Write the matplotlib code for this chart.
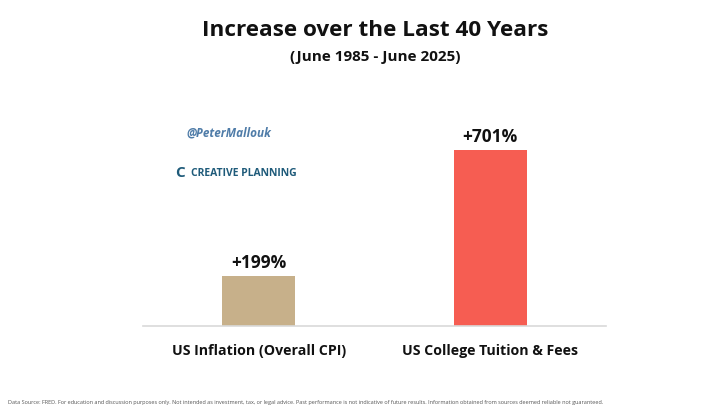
import matplotlib
matplotlib.use("Agg")
import matplotlib.pyplot as plt

categories = ["US Inflation (Overall CPI)", "US College Tuition & Fees"]
values = [199, 701]
value_labels = ["+199%", "+701%"]
colors = ["#C7B08A", "#F65D52"]

title = "Increase over the Last 40 Years"
subtitle = "(June 1985 - June 2025)"
footnote = ("Data Source: FRED. For education and discussion purposes only. Not intended as investment, tax, or legal advice. "
            "Past performance is not indicative of future results. Information obtained from sources deemed reliable not guaranteed.")

plt.rcParams['font.family'] = ['Open Sans', 'DejaVu Sans']

W, H = 709, 411
fig = plt.figure(figsize=(W / 100, H / 100), dpi=100)
fig.patch.set_facecolor("white")

# axes: x 143..606 px, baseline y=326, top y=125 (ylim 0..800)
ax = fig.add_axes([143 / W, 1 - 326 / H, (606 - 143) / W, (326 - 125) / H])
x = list(range(len(categories)))
bars = ax.bar(x, values, width=0.315, color=colors, zorder=2)
ax.set_xlim(-0.5, 1.5)
ax.set_ylim(0, 800)
for s in ["top", "right", "left"]:
    ax.spines[s].set_visible(False)
ax.spines["bottom"].set_color("#D9D9D9")
ax.spines["bottom"].set_linewidth(1.2)
ax.set_yticks([])
ax.set_xticks(x)
ax.set_xticklabels(categories, fontsize=10.2, fontweight="bold", color="#111111")
ax.tick_params(axis="x", length=0, pad=13)

for b, lab in zip(bars, value_labels):
    ax.annotate(lab, (b.get_x() + b.get_width() / 2, b.get_height()),
                xytext=(0, 3), textcoords="offset points",
                ha="center", va="bottom", fontsize=12.5, fontweight="bold", color="#111111")

fig.text(375 / W, 1 - 30 / H, title, ha="center", va="center", fontsize=16.2, fontweight="bold", color="#111111")
fig.text(375 / W, 1 - 57 / H, subtitle, ha="center", va="center", fontsize=11, fontweight="bold", color="#111111")

fig.text(186 / W, 1 - 133 / H, "@PeterMallouk", ha="left", va="center", fontsize=8.5,
         fontstyle="italic", fontweight="bold", color="#4F7CA8")
fig.text(175 / W, 1 - 173 / H, "C", ha="left", va="center", fontsize=11, fontweight="bold", color="#1F5B7A")
fig.text(191 / W, 1 - 173 / H, "CREATIVE PLANNING", ha="left", va="center", fontsize=7.5,
         fontweight="bold", color="#1F5B7A")

fig.text(8 / W, 1 - 402 / H, footnote, ha="left", va="center", fontsize=4.0, color="#555555")

fig.savefig("out.png", dpi=100, facecolor="white")
